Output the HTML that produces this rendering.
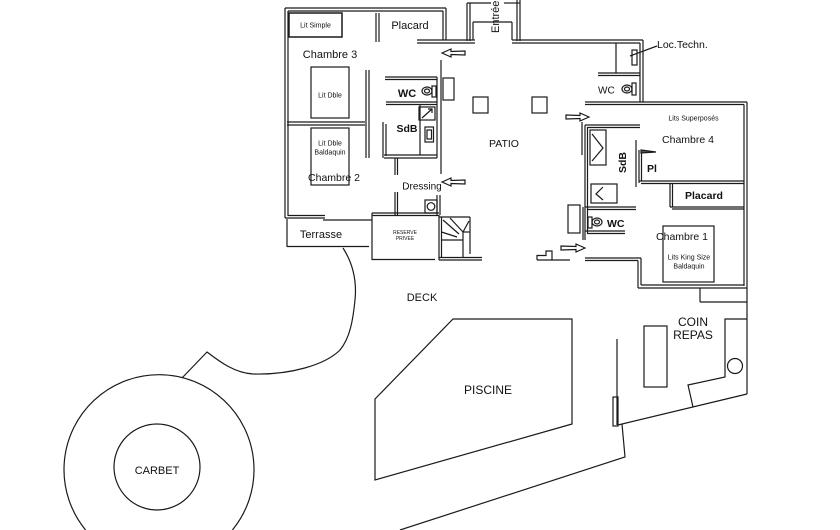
<!DOCTYPE html>
<html><head><meta charset="utf-8">
<style>
html,body{margin:0;padding:0;background:#fff;width:840px;height:530px;overflow:hidden;}
svg{display:block;}
text{font-family:"Liberation Sans",Arial,sans-serif;fill:#111;}
</style></head>
<body>
<svg width="840" height="530" viewBox="0 0 840 530" xmlns="http://www.w3.org/2000/svg">
<g fill="none" stroke="#1a1a1a" stroke-width="1.2">
<!-- LEFT WING -->
<line x1="285" y1="8" x2="285" y2="218"/><line x1="288" y1="11" x2="288" y2="216"/>
<line x1="285" y1="8" x2="446" y2="8"/><line x1="288" y1="11" x2="443" y2="11"/>
<line x1="443" y1="11" x2="443" y2="40"/><line x1="446" y1="8" x2="446" y2="40"/>
<line x1="417" y1="40" x2="475" y2="40"/><line x1="417" y1="43" x2="475" y2="43"/>
<line x1="376" y1="13" x2="376" y2="42"/><line x1="379" y1="13" x2="379" y2="42"/>
<rect x="289" y="13" width="53" height="24" stroke-width="1.5"/>
<line x1="287" y1="122" x2="365" y2="122"/><line x1="287" y1="125" x2="365" y2="125"/>
<line x1="366" y1="70" x2="366" y2="158"/><line x1="369" y1="70" x2="369" y2="158"/>
<rect x="311" y="67" width="38" height="51"/>
<rect x="311" y="128" width="38" height="57"/>
<!-- WC / SdB block -->
<line x1="385" y1="77" x2="437" y2="77"/><line x1="385" y1="79.5" x2="437" y2="79.5"/>
<line x1="386" y1="102" x2="437" y2="102"/><line x1="386" y1="104.5" x2="437" y2="104.5"/>
<line x1="437" y1="77" x2="437" y2="158"/><line x1="441" y1="60" x2="441" y2="174"/>
<line x1="383" y1="122" x2="383" y2="158"/><line x1="386" y1="124" x2="386" y2="156"/>
<line x1="384" y1="155" x2="437" y2="155"/><line x1="384" y1="158" x2="437" y2="158"/>
<line x1="420" y1="104" x2="420" y2="155"/>
<rect x="419" y="107" width="16" height="13"/>
<line x1="422" y1="118" x2="432" y2="109"/><path d="M428 109 L432 109 L432 113"/>
<rect x="425" y="127" width="8.5" height="15"/><rect x="427" y="130" width="4.5" height="9"/>
<ellipse cx="427" cy="91" rx="5" ry="4"/><ellipse cx="427" cy="91" rx="2.5" ry="2"/>
<rect x="432" y="86" width="4" height="11"/>
<rect x="443" y="78" width="11" height="22"/>
<line x1="395" y1="158" x2="395" y2="175"/><line x1="397.5" y1="158" x2="397.5" y2="175"/>
<line x1="395" y1="192" x2="395" y2="215"/><line x1="397.5" y1="192" x2="397.5" y2="215"/>
<line x1="437" y1="195" x2="437" y2="215"/><line x1="440" y1="195" x2="440" y2="215"/>
<rect x="425" y="200" width="12" height="13"/><circle cx="431" cy="206.5" r="3.8"/>
<!-- bottom walls / terrasse -->
<line x1="285" y1="218" x2="325" y2="218"/><line x1="288" y1="215.5" x2="325" y2="215.5"/>
<line x1="323" y1="220" x2="372" y2="220"/>
<line x1="287" y1="219" x2="287" y2="247"/>
<line x1="287" y1="246.5" x2="369" y2="246.5"/>
<!-- reserve -->
<line x1="372" y1="213" x2="439" y2="213"/><line x1="372" y1="215.5" x2="439" y2="215.5"/>
<line x1="372" y1="213" x2="372" y2="260"/>
<line x1="372" y1="259.5" x2="435" y2="259.5"/>
<!-- stair -->
<line x1="439" y1="215" x2="439" y2="260"/><line x1="441.5" y1="217" x2="441.5" y2="258"/>
<line x1="439" y1="217" x2="470" y2="217"/>
<line x1="470" y1="217" x2="470" y2="254"/>
<line x1="463" y1="232" x2="463" y2="258"/>
<line x1="441.5" y1="240" x2="463" y2="240"/>
<line x1="443" y1="220" x2="459" y2="234"/>
<line x1="450" y1="218" x2="463" y2="232"/>
<line x1="463" y1="232" x2="469" y2="221"/>
<line x1="441.5" y1="232" x2="457" y2="237"/>
<line x1="463" y1="232" x2="470" y2="232"/>
<line x1="439" y1="257.5" x2="482" y2="257.5"/><line x1="439" y1="260" x2="482" y2="260"/>
<!-- ENTREE -->
<line x1="467" y1="3" x2="467" y2="41"/><line x1="470" y1="3" x2="470" y2="41"/>
<line x1="467" y1="3" x2="491" y2="3"/><line x1="504" y1="3" x2="520" y2="3"/>
<line x1="473" y1="22" x2="473" y2="40"/><line x1="473" y1="22" x2="512" y2="22"/>
<line x1="512" y1="22" x2="512" y2="40"/>
<line x1="517" y1="0" x2="517" y2="41"/><line x1="520" y1="0" x2="520" y2="41"/>
<line x1="512" y1="40" x2="643" y2="40"/><line x1="512" y1="43" x2="640" y2="43"/>
<!-- patio squares -->
<rect x="473" y="97" width="15" height="16"/>
<rect x="532" y="97" width="15" height="16"/>
<!-- Loc techn -->
<line x1="640" y1="43" x2="640" y2="102"/><line x1="643" y1="40" x2="643" y2="102"/>
<line x1="616" y1="43" x2="616" y2="73"/>
<line x1="598" y1="73" x2="640" y2="73"/><line x1="598" y1="75.5" x2="640" y2="75.5"/>
<rect x="632" y="50" width="5" height="15"/>
<line x1="630" y1="56" x2="657" y2="46"/>
<ellipse cx="627" cy="89" rx="5" ry="4"/><ellipse cx="627" cy="89" rx="2.5" ry="2"/>
<rect x="632" y="83" width="4" height="12"/>
<!-- RIGHT WING -->
<line x1="585" y1="102" x2="747" y2="102"/><line x1="585" y1="104.5" x2="744" y2="104.5"/>
<line x1="744" y1="104.5" x2="744" y2="286"/><line x1="747" y1="102" x2="747" y2="394"/>
<line x1="585" y1="125" x2="640" y2="125"/><line x1="587" y1="127.5" x2="640" y2="127.5"/>
<line x1="582" y1="122" x2="582" y2="155"/>
<line x1="585" y1="125" x2="585" y2="240"/><line x1="587.5" y1="127" x2="587.5" y2="233"/>
<rect x="590" y="130" width="16" height="35"/>
<path d="M592 134 L603 148 L592 161"/>
<line x1="636" y1="140" x2="636" y2="187"/>
<line x1="639" y1="150" x2="639" y2="183"/><line x1="641.5" y1="150" x2="641.5" y2="181"/>
<path d="M641 150 L656 152 L641 153 Z" fill="#555"/>
<line x1="639" y1="181" x2="744" y2="181"/><line x1="641" y1="183.5" x2="744" y2="183.5"/>
<rect x="591" y="184" width="26" height="19"/>
<path d="M603 187 L596 194 L603 200"/>
<line x1="670" y1="184" x2="670" y2="207"/><line x1="672.5" y1="184" x2="672.5" y2="207"/>
<line x1="670" y1="207" x2="744" y2="207"/><line x1="672" y1="209" x2="744" y2="209"/>
<line x1="585" y1="207" x2="636" y2="207"/><line x1="587" y1="209.5" x2="636" y2="209.5"/>
<rect x="588" y="217" width="4" height="11"/>
<ellipse cx="597" cy="222" rx="5" ry="4"/><ellipse cx="597" cy="222" rx="2.5" ry="2"/>
<line x1="585" y1="231" x2="625" y2="231"/><line x1="587" y1="233.5" x2="625" y2="233.5"/>
<rect x="568" y="205" width="12" height="28"/>
<line x1="583" y1="207" x2="583" y2="240"/>
<line x1="585" y1="258" x2="641" y2="258"/><line x1="585" y1="260.5" x2="638" y2="260.5"/>
<line x1="638" y1="260.5" x2="638" y2="288"/><line x1="641" y1="258" x2="641" y2="285"/>
<line x1="641" y1="285" x2="744" y2="285"/><line x1="638" y1="288" x2="747" y2="288"/>
<rect x="663" y="226" width="51" height="56"/>
<line x1="700" y1="288" x2="700" y2="302"/><line x1="700" y1="302" x2="747" y2="302"/>
<!-- step -->
<path d="M537 260 L537 255.5 L546 255.5 L546 251 L552 251 L552 260"/>
<line x1="537" y1="260" x2="570" y2="260"/>
<!-- arrows -->
<polygon points="442,53 451,49 451,51.5 465,51 465,55 451,54.5 451,57"/>
<polygon points="442,182 451,178 451,180.5 465,180 465,184 451,183.5 451,186"/>
<polygon points="589,117 580,113 580,115.5 566,115 566,119 580,118.5 580,121"/>
<polygon points="585,248 576,244 576,246.5 561,246 561,250 576,249.5 576,252"/>
<!-- COIN REPAS -->
<path d="M747 319 L725 319 L725 377 L688 385 L693 407"/>
<circle cx="735" cy="366" r="7.5"/>
<rect x="644" y="326" width="23" height="61"/>
<line x1="617" y1="339" x2="617" y2="425"/>
<rect x="613" y="397" width="5" height="29"/>
<line x1="618" y1="425" x2="747" y2="394"/>
<path d="M622 424 L625 457 L400 530"/>
<!-- PISCINE -->
<polygon points="453,319 572,319 572,424 375,480 375,399"/>
<!-- DECK curve -->
<path d="M343 248 C352 262 357 280 355 300 C353 320 350 338 340 350 C325 365 290 375 253 374 C235 373 220 362 207 352 L182 378"/>
<!-- CARBET -->
<path d="M85.6 530 A95 95 0 1 1 232.4 530"/>
<circle cx="157" cy="467" r="43"/>
</g>
<g>
<text x="315.5" y="27.5" font-size="7" text-anchor="middle">Lit Simple</text>
<text x="410" y="29" font-size="11" text-anchor="middle">Placard</text>
<text x="330" y="58" font-size="11" text-anchor="middle">Chambre 3</text>
<text x="330" y="97.5" font-size="7" text-anchor="middle">Lit Dble</text>
<text x="330" y="145.5" font-size="7" text-anchor="middle">Lit Dble</text>
<text x="330" y="154.5" font-size="7" text-anchor="middle">Baldaquin</text>
<text x="334" y="181" font-size="10.5" text-anchor="middle">Chambre 2</text>
<text x="407" y="97" font-size="11" font-weight="bold" text-anchor="middle">WC</text>
<text x="407" y="132" font-size="10.5" font-weight="bold" text-anchor="middle">SdB</text>
<text x="422" y="189.5" font-size="10" text-anchor="middle">Dressing</text>
<text x="321" y="238" font-size="11" text-anchor="middle">Terrasse</text>
<text x="405" y="234" font-size="5" text-anchor="middle">RESERVE</text>
<text x="405" y="240" font-size="5" text-anchor="middle">PRIVEE</text>
<text x="504" y="147" font-size="10.5" text-anchor="middle">PATIO</text>
<text transform="translate(499,33) rotate(-90)" font-size="11">Entrée</text>
<text x="657" y="48" font-size="10.5">Loc.Techn.</text>
<text x="598" y="93.5" font-size="10">WC</text>
<text x="693.5" y="120.5" font-size="7" text-anchor="middle">Lits Superposés</text>
<text x="688" y="143" font-size="10.5" text-anchor="middle">Chambre 4</text>
<text transform="translate(626,173) rotate(-90)" font-size="10.5" font-weight="bold">SdB</text>
<text x="647" y="172" font-size="10.5" font-weight="bold">Pl</text>
<text x="704" y="199" font-size="10.5" font-weight="bold" text-anchor="middle">Placard</text>
<text x="607" y="227" font-size="10.5" font-weight="bold">WC</text>
<text x="682" y="240" font-size="10.5" text-anchor="middle">Chambre 1</text>
<text x="689" y="259.5" font-size="7" text-anchor="middle">Lits King Size</text>
<text x="689" y="268.5" font-size="7" text-anchor="middle">Baldaquin</text>
<text x="422" y="301" font-size="11" text-anchor="middle">DECK</text>
<text x="693" y="326" font-size="12" text-anchor="middle">COIN</text>
<text x="693" y="339" font-size="12" text-anchor="middle">REPAS</text>
<text x="488" y="394" font-size="12" text-anchor="middle">PISCINE</text>
<text x="157" y="474" font-size="11" text-anchor="middle">CARBET</text>
</g>
</svg>
</body></html>
